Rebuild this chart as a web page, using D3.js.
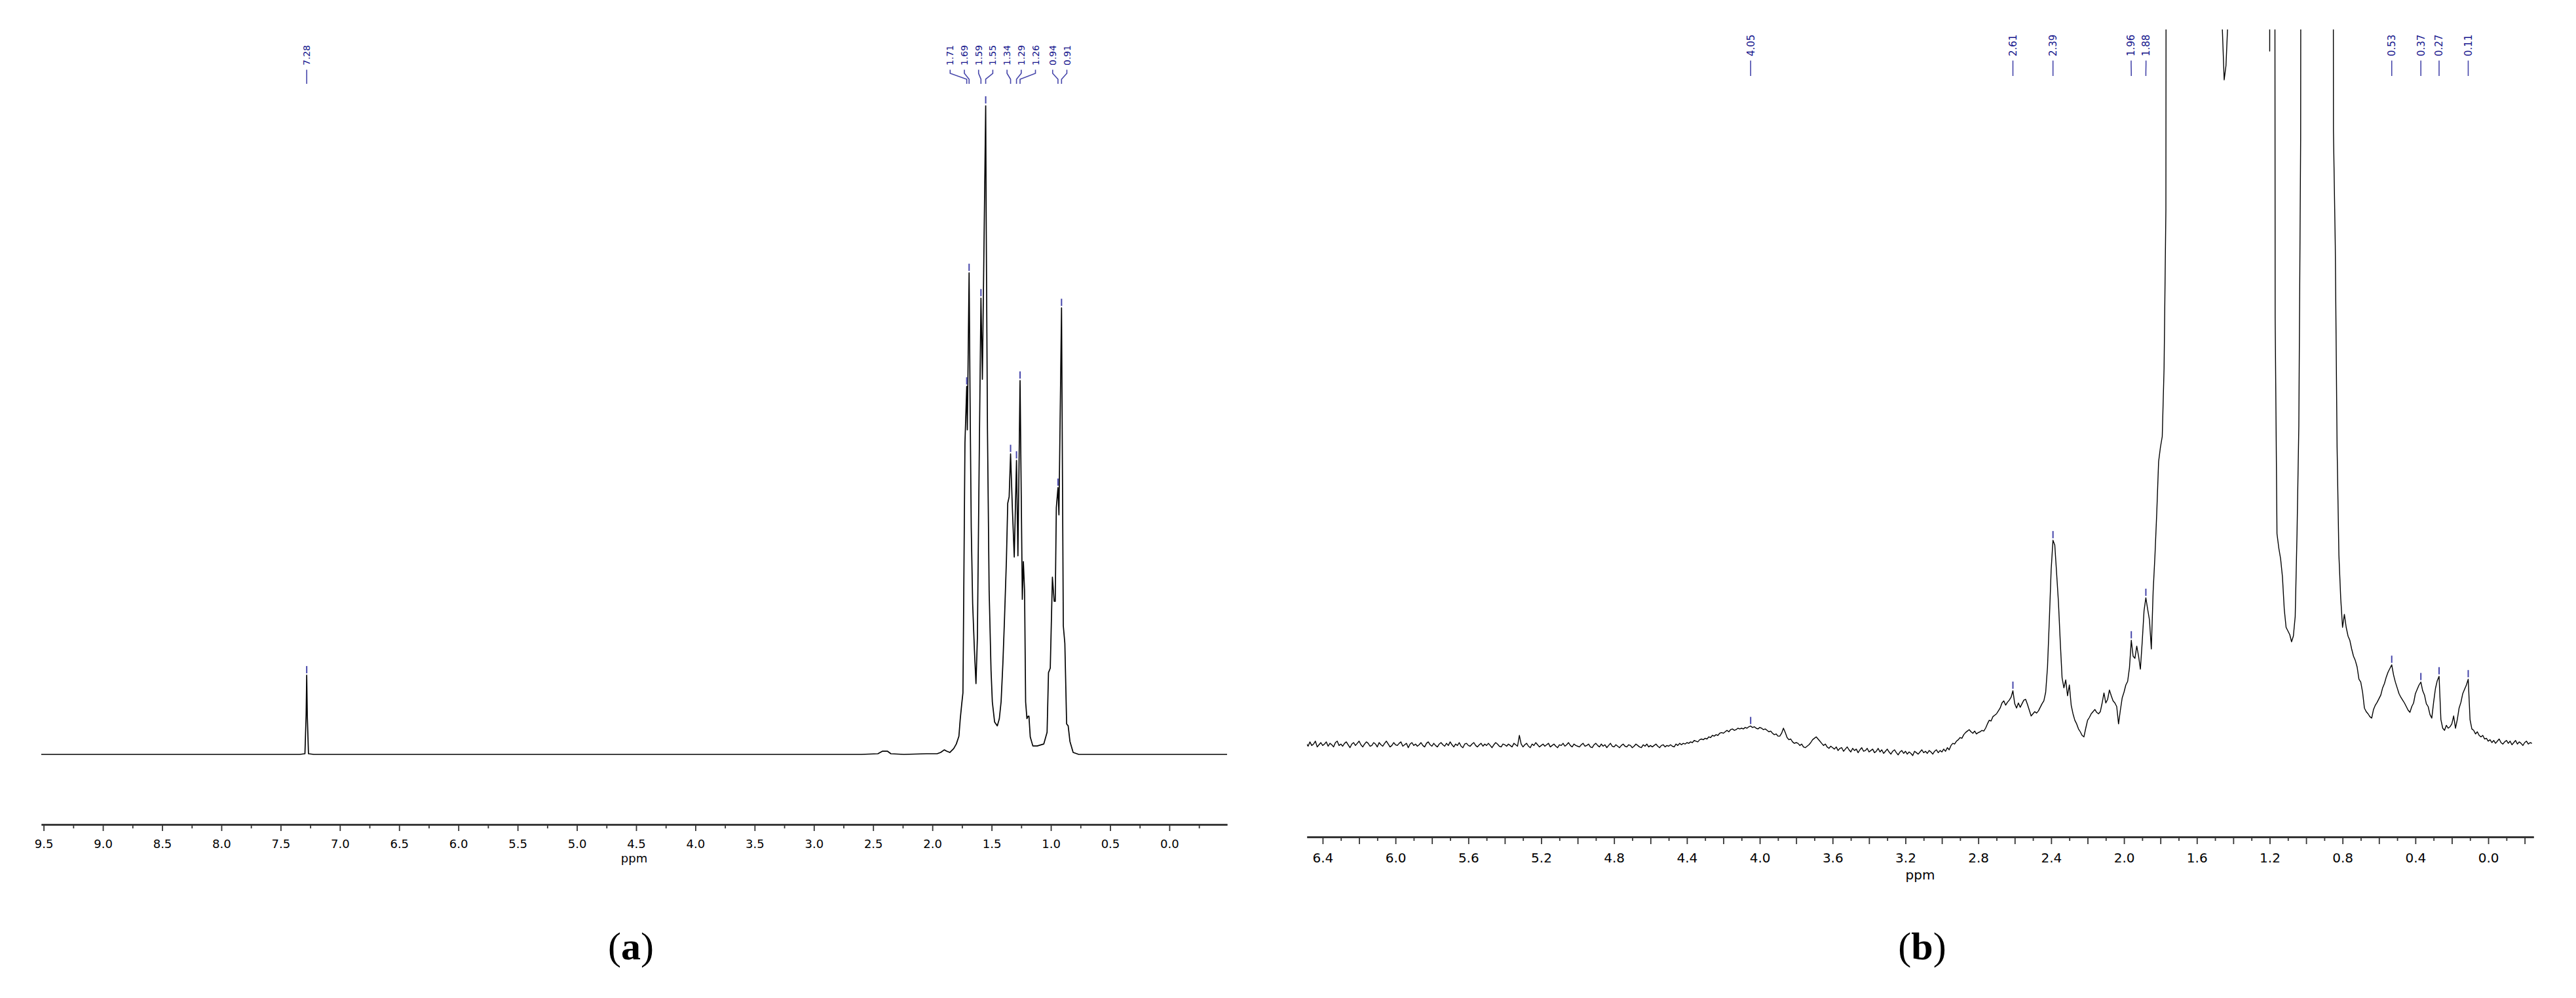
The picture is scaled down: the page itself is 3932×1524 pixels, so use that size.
<!DOCTYPE html>
<html>
<head>
<meta charset="utf-8">
<script src="https://cdn.jsdelivr.net/npm/d3@7/dist/d3.min.js"></script>
<style>
  body { margin: 0; background: #fff; }
  .tick text { font-family: "DejaVu Sans", sans-serif; fill: #000; }
</style>
</head>
<body>
<div id="chart"></div>
<script>

// ---- panel (a): full 1H spectrum, [ppm, relative intensity] ----
var aSpectrum = [
  [9.52, 0], [7.34, 0], [7.295, 0.1], [7.285, 6], [7.28, 12.2], [7.275, 6], [7.265, 0.1], [7.22, 0],
  [2.60, 0], [2.46, 0.1], [2.42, 0.5], [2.38, 0.5], [2.35, 0.1], [2.24, 0], [2.05, 0.1], [1.96, 0.1],
  [1.93, 0.3], [1.90, 0.7], [1.88, 0.5], [1.853, 0.3], [1.82, 0.9], [1.798, 1.6], [1.776, 2.8],
  [1.765, 5.4], [1.752, 7.8], [1.742, 9.5], [1.735, 25], [1.725, 48], [1.71, 56.7], [1.705, 50.0],
  [1.69, 74.2], [1.682, 55], [1.672, 35], [1.66, 23.2], [1.645, 16], [1.632, 10.9], [1.62, 18],
  [1.605, 45], [1.59, 70.3], [1.578, 57.8], [1.55, 100], [1.545, 80], [1.535, 50], [1.521, 25.3],
  [1.505, 13], [1.494, 8.1], [1.475, 5.0], [1.452, 4.4], [1.435, 5.5], [1.42, 8.1], [1.405, 14],
  [1.392, 20.5], [1.375, 30], [1.364, 38.7], [1.352, 39.7], [1.34, 46.3], [1.325, 38], [1.309, 30.4],
  [1.29, 45.3], [1.278, 30.6], [1.26, 57.6], [1.25, 40], [1.241, 23.9], [1.232, 29.7], [1.222, 25.3],
  [1.213, 8.1], [1.202, 5.5], [1.192, 5.9], [1.185, 5.9], [1.174, 2.7], [1.152, 1.3], [1.115, 1.3],
  [1.06, 1.6], [1.032, 3.4], [1.02, 12.6], [1.005, 13.3], [0.987, 27.3], [0.972, 23.6], [0.963, 23.6],
  [0.954, 38.0], [0.94, 41.1], [0.932, 36.9], [0.91, 68.8], [0.895, 19.8], [0.882, 17.1], [0.867, 4.7],
  [0.854, 4.4], [0.839, 2.0], [0.812, 0.3], [0.765, 0], [-0.487, 0]
];
var aPeakLabels = [7.28, 1.71, 1.69, 1.59, 1.55, 1.34, 1.29, 1.26, 0.94, 0.91];
var aLabeledTicks = [9.5, 9.0, 8.5, 8.0, 7.5, 7.0, 6.5, 6.0, 5.5, 5.0, 4.5, 4.0, 3.5, 3.0, 2.5, 2.0, 1.5, 1.0, 0.5, 0.0];
var aMinorTicks = [9.25, 8.75, 8.25, 7.75, 7.25, 6.75, 6.25, 5.75, 5.25, 4.75, 4.25, 3.75, 3.25, 2.75, 2.25, 1.75, 1.25, 0.75, 0.25, -0.25];

// ---- panel (b): expanded spectrum, one value every 0.01 ppm from 6.49 down to -0.24 ----
var bStart = 6.49, bStep = 0.01;
var bIntensity = [
  0.9,0.5,1.1,0.6,0.8,1.2,0.4,0.7,1.0,0.6,
  0.8,1.1,0.5,0.9,0.7,0.4,1.0,1.2,0.6,0.8,
  0.5,0.9,1.1,0.7,0.3,0.8,1.0,0.6,0.9,1.2,
  0.7,0.4,0.8,1.1,0.9,0.5,0.6,1.0,0.8,0.4,
  1.0,0.7,0.5,0.9,1.2,0.8,0.4,0.6,1.0,0.7,
  0.6,0.9,1.1,0.5,0.7,0.9,0.3,0.8,1.0,0.6,
  0.8,0.5,0.7,1.0,0.6,0.4,0.9,1.1,0.7,0.5,
  0.9,0.6,0.4,0.8,1.0,0.7,0.5,0.9,0.6,1.1,
  0.7,0.4,0.8,0.6,1.0,0.5,0.3,0.8,0.9,0.6,
  0.5,0.8,1.0,0.6,0.4,0.7,0.9,0.5,0.8,0.6,
  0.9,0.6,0.3,0.7,1.0,0.8,0.5,0.4,0.8,0.7,
  0.5,0.8,0.6,0.4,0.9,0.7,0.5,2.0,0.8,0.4,
  0.7,0.9,0.5,0.3,0.8,0.6,1.0,0.7,0.4,0.6,
  0.8,0.5,0.7,0.9,0.4,0.6,0.8,0.5,0.3,0.7,
  0.6,0.9,0.5,0.7,1.0,0.6,0.4,0.8,0.6,0.5,
  0.4,0.7,0.9,0.5,0.6,0.8,0.4,0.3,0.7,0.9,
  0.6,0.4,0.8,0.5,0.7,0.3,0.6,0.9,0.5,0.4,
  0.7,0.5,0.3,0.6,0.8,0.5,0.4,0.7,0.6,0.3,
  0.5,0.8,0.6,0.4,0.3,0.7,0.5,0.8,0.4,0.6,
  0.4,0.6,0.8,0.5,0.3,0.6,0.7,0.4,0.6,0.5,
  0.7,0.5,0.4,0.8,0.6,0.9,0.7,0.9,0.8,1.0,
  0.9,1.1,1.0,1.3,1.2,1.1,1.4,1.5,1.4,1.6,
  1.5,1.8,1.7,2.0,1.9,2.1,2.0,2.3,2.4,2.3,
  2.5,2.7,2.5,2.8,2.9,2.7,2.8,3.0,2.9,3.0,
  2.9,3.1,3.0,3.2,3.3,3.1,3.2,3.0,2.9,3.1,
  3.0,2.8,2.9,2.7,2.5,2.6,2.3,2.1,2.2,1.9,
  1.9,2.3,3.0,2.4,1.7,1.4,1.5,1.1,0.9,1.0,
  0.9,0.6,0.8,0.4,0.3,0.5,0.7,1.0,1.4,1.6,
  1.8,1.5,1.2,0.9,0.6,0.8,0.4,0.2,0.5,0.3,
  0.1,0.4,-0.1,0.2,0.3,-0.2,0.1,0.4,0.0,-0.3,
  0.2,-0.1,0.1,-0.4,0.0,0.3,-0.2,-0.1,0.2,-0.3,
  -0.1,0.1,-0.4,-0.2,0.2,-0.3,0.0,-0.5,-0.2,0.1,
  -0.3,-0.6,-0.2,0.0,-0.4,-0.7,-0.3,-0.1,-0.5,-0.2,
  -0.6,-0.3,-0.5,-0.8,-0.2,-0.4,-0.6,-0.3,0.0,-0.4,
  -0.2,-0.5,-0.1,-0.3,-0.6,-0.2,0.0,-0.4,-0.1,-0.3,
  0.1,-0.2,0.3,0.0,0.6,0.9,0.8,1.2,1.4,1.7,
  1.6,2.1,2.4,2.6,2.8,2.5,2.3,2.6,2.2,2.4,
  2.5,2.7,2.6,3.0,3.6,4.1,4.0,4.6,4.8,5.0,
  5.4,5.8,6.5,6.8,6.2,6.6,6.9,7.3,8.2,6.4,
  5.8,6.5,5.9,6.4,6.9,7.0,6.3,5.5,4.7,5.0,
  5.3,5.1,5.4,5.9,6.4,6.8,8.0,11.5,18.0,25.0,
  29.1,28.4,24.5,20.5,15.0,10.0,8.6,9.7,7.5,9.0,
  6.2,5.0,4.1,3.6,2.9,2.5,2.0,1.8,3.0,4.1,
  4.5,5.0,5.3,5.6,5.2,5.0,5.3,6.5,7.9,6.5,
  7.0,8.3,7.5,6.8,6.5,6.0,3.6,5.5,7.2,8.0,
  9.0,9.5,11.4,15.2,13.0,12.7,14.4,13.0,11.2,15.0,
  19.3,21.1,19.5,18.0,14.0,22.0,27.0,33.0,40.0,42.0,
  43.5,53.0,75.0,400,400,400,400,400,400,400,
  400,400,400,400,400,400,400,400,400,400,
  400,400,400,400,400,400,400,400,400,400,
  400,400,400,100,93,95,101,400,400,400,
  400,400,400,400,400,400,400,400,400,400,
  400,400,400,400,400,400,400,400,400,97,
  400,400,60,30,28,26.5,24,19.5,17,16.5,
  16.0,15.0,15.8,18.5,30.0,45.0,85.0,400,400,400,
  400,400,400,400,400,400,400,400,400,400,
  400,400,400,400,86,70,42,27,21,17,
  18.8,17.0,15.8,15.2,14.0,13.0,12.4,11.5,9.8,9.4,
  8.0,5.8,5.3,5.0,4.6,4.4,5.6,6.2,6.6,7.1,
  7.6,8.6,9.2,10.1,10.8,11.3,11.8,10.4,9.4,8.6,
  7.8,7.3,6.9,6.5,6.0,5.5,5.2,6.0,6.5,7.8,
  8.4,9.0,9.4,8.2,7.6,6.4,6.0,4.9,4.4,6.6,
  8.5,9.6,10.2,4.2,3.0,2.7,3.4,3.0,3.2,3.6,
  4.7,3.0,4.2,5.8,6.6,7.8,8.4,9.0,9.8,4.2,
  2.9,2.7,2.2,2.5,2.0,1.8,2.0,1.5,1.6,1.2,
  1.4,1.0,1.3,0.9,1.2,1.5,1.0,0.8,1.1,1.3,
  0.9,1.2,0.7,1.0,1.3,0.8,1.1,0.9,0.6,1.0,
  1.2,0.8,1.0,0.9
];
var bPeakLabels = [4.05, 2.61, 2.39, 1.96, 1.88, 0.53, 0.37, 0.27, 0.11];
var bLabeledTicks = [6.4, 6.0, 5.6, 5.2, 4.8, 4.4, 4.0, 3.6, 3.2, 2.8, 2.4, 2.0, 1.6, 1.2, 0.8, 0.4, 0.0];
var bMajorTicks = [6.2, 5.8, 5.4, 5.0, 4.6, 4.2, 3.8, 3.4, 3.0, 2.6, 2.2, 1.8, 1.4, 1.0, 0.6, 0.2, -0.2];
var bMinorTicks = [6.3, 6.1, 5.9, 5.7, 5.5, 5.3, 5.1, 4.9, 4.7, 4.5, 4.3, 4.1, 3.9, 3.7, 3.5, 3.3, 3.1,
  2.9, 2.7, 2.5, 2.3, 2.1, 1.9, 1.7, 1.5, 1.3, 1.1, 0.9, 0.7, 0.5, 0.3, 0.1, -0.1];

var bSpectrum = bIntensity.map(function(v, i) {
  return [+(bStart - i * bStep).toFixed(2), v];
});

var svgWidth = 3932;
var svgHeight = 1524;

var svg = d3.select("#chart")
  .append("svg")
  .attr("width", svgWidth)
  .attr("height", svgHeight)
  .style("background", "#fff");

var labelBlue = "#14148c";
var leaderBlue = "#4646aa";

// Spread overlapping peak labels into evenly spaced groups centred on their peaks
function spreadLabels(xs, gap) {
  var clusters = xs.map(function(x, i) { return { idx: [i], sum: x }; });
  var merged = true;
  while (merged) {
    merged = false;
    for (var i = 0; i < clusters.length - 1; i++) {
      var a = clusters[i], b = clusters[i + 1];
      var aEnd = a.sum / a.idx.length + (a.idx.length - 1) / 2 * gap;
      var bBeg = b.sum / b.idx.length - (b.idx.length - 1) / 2 * gap;
      if (bBeg - aEnd < gap) {
        clusters.splice(i, 2, { idx: a.idx.concat(b.idx), sum: a.sum + b.sum });
        merged = true;
        break;
      }
    }
  }
  var pos = [];
  clusters.forEach(function(c) {
    var center = c.sum / c.idx.length;
    c.idx.forEach(function(k, j) {
      pos[k] = center + (j - (c.idx.length - 1) / 2) * gap;
    });
  });
  return pos;
}

function drawPanel(p) {
  var x = d3.scaleLinear().domain(p.xDomain).range(p.xRange);
  var y = d3.scaleLinear().domain([0, 100]).range(p.yRange);
  var g = svg.append("g");

  // axes
  var axisMain = d3.axisBottom(x)
    .tickValues(p.labeledTicks)
    .tickFormat(d3.format(".1f"))
    .tickSize(p.majorLen)
    .tickSizeOuter(0)
    .tickPadding(p.tickPad);
  var ax = g.append("g")
    .attr("transform", `translate(0, ${p.axisY})`)
    .call(axisMain);
  ax.selectAll("text").style("font-size", p.tickFont + "px");

  if (p.majorTicks) {
    g.append("g")
      .attr("transform", `translate(0, ${p.axisY})`)
      .call(d3.axisBottom(x).tickValues(p.majorTicks).tickFormat("").tickSize(p.majorLen).tickSizeOuter(0));
  }
  g.append("g")
    .attr("transform", `translate(0, ${p.axisY})`)
    .call(d3.axisBottom(x).tickValues(p.minorTicks).tickFormat("").tickSize(p.minorLen).tickSizeOuter(0));

  g.selectAll(".domain").attr("stroke", "#333").attr("stroke-width", 2.6);
  g.selectAll(".tick line").attr("stroke", "#333").attr("stroke-width", 1.8);

  g.append("text")
    .attr("x", (p.xRange[0] + p.xRange[1]) / 2)
    .attr("y", p.ppmY)
    .attr("text-anchor", "middle")
    .style("font-family", "DejaVu Sans, sans-serif")
    .style("font-size", p.tickFont + "px")
    .text("ppm");

  // spectrum
  var clipId = "clip-" + p.name;
  svg.append("clipPath").attr("id", clipId)
    .append("rect")
    .attr("x", p.xRange[0]).attr("y", p.yRange[1])
    .attr("width", p.xRange[1] - p.xRange[0])
    .attr("height", p.axisY - p.yRange[1]);

  var line = d3.line()
    .x(function(d) { return x(d[0]); })
    .y(function(d) { return y(d[1]); });

  g.append("path")
    .datum(p.spectrum)
    .attr("clip-path", `url(#${clipId})`)
    .attr("fill", "none")
    .attr("stroke", "#000")
    .attr("stroke-width", p.lineWidth)
    .attr("stroke-linejoin", "round")
    .attr("d", line);

  // peak markers and labels
  var peakX = p.peaks.map(function(v) { return x(v); });
  var labelX = spreadLabels(peakX, p.labelGap);
  var fmt = d3.format(".2f");

  p.peaks.forEach(function(v, i) {
    var near = p.spectrum.filter(function(d) { return Math.abs(d[0] - v) <= 0.012; });
    var top = d3.max(near, function(d) { return d[1]; });
    var yTop = y(top);
    g.append("line")
      .attr("x1", peakX[i]).attr("x2", peakX[i])
      .attr("y1", yTop - 14).attr("y2", yTop - 3)
      .attr("stroke", leaderBlue).attr("stroke-width", 2);

    var L = p.leader;
    g.append("path")
      .attr("fill", "none")
      .attr("stroke", leaderBlue)
      .attr("stroke-width", 1.6)
      .attr("d", `M${labelX[i]},${L[0]}V${L[1]}L${peakX[i]},${L[2]}V${L[3]}`);

    g.append("text")
      .attr("transform", `translate(${labelX[i]}, ${p.labelY}) rotate(-90)`)
      .attr("dy", "0.36em")
      .style("font-family", "DejaVu Sans, sans-serif")
      .style("font-size", p.labelFont + "px")
      .style("fill", labelBlue)
      .text(fmt(v));
  });

  // caption
  var cap = svg.append("text")
    .attr("x", p.captionX)
    .attr("y", p.captionY)
    .attr("text-anchor", "middle")
    .style("font-family", "Liberation Serif, serif")
    .style("font-size", "60px");
  cap.append("tspan").text("(");
  cap.append("tspan").style("font-weight", "bold").text(p.name);
  cap.append("tspan").text(")");
}

drawPanel({
  name: "a",
  spectrum: aSpectrum,
  peaks: aPeakLabels,
  labeledTicks: aLabeledTicks,
  minorTicks: aMinorTicks,
  xDomain: [9.52, -0.487],
  xRange: [63, 1873],
  yRange: [1152, 161],
  axisY: 1259,
  majorLen: 10,
  minorLen: 6,
  tickPad: 13,
  tickFont: 18,
  ppmY: 1317,
  lineWidth: 1.7,
  labelGap: 21.7,
  labelFont: 14,
  labelY: 100,
  leader: [106.5, 112, 121, 128],
  captionX: 963,
  captionY: 1465
});

drawPanel({
  name: "b",
  spectrum: bSpectrum,
  peaks: bPeakLabels,
  labeledTicks: bLabeledTicks,
  majorTicks: bMajorTicks,
  minorTicks: bMinorTicks,
  xDomain: [6.486, -0.248],
  xRange: [1995, 3867],
  yRange: [1145, 45],
  axisY: 1278,
  majorLen: 11,
  minorLen: 6,
  tickPad: 14,
  tickFont: 20,
  ppmY: 1343,
  lineWidth: 1.4,
  labelGap: 22.7,
  labelFont: 15,
  labelY: 86,
  leader: [92.5, 98.5, 110, 116],
  captionX: 2934,
  captionY: 1465
});

</script>
</body>
</html>
